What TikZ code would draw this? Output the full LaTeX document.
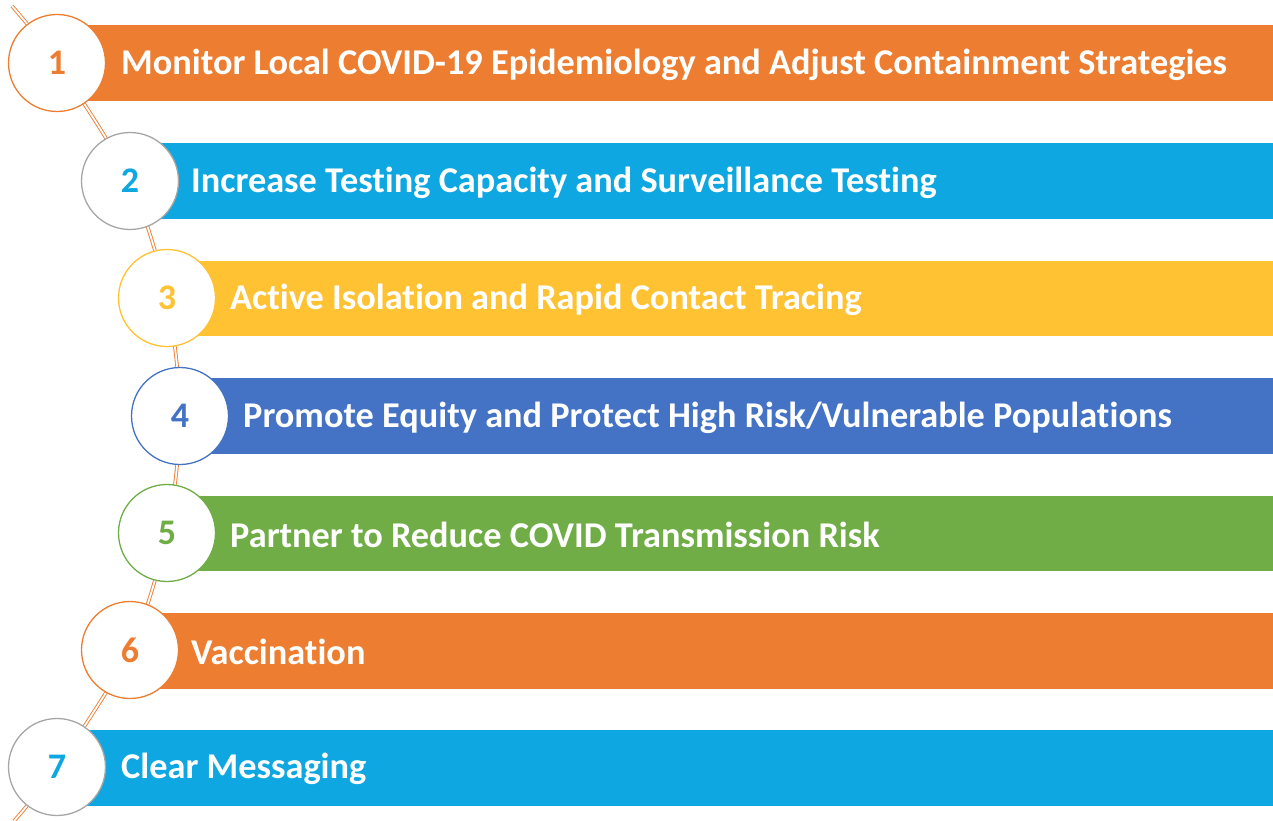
\documentclass[tikz,border=0pt]{standalone}
\usepackage{fontspec}
\setmainfont[Ligatures=NoCommon]{Carlito}
\definecolor{corange}{HTML}{ED7D31}
\definecolor{cblue}{HTML}{0EA7E1}
\definecolor{cyellow}{HTML}{FFC233}
\definecolor{cdblue}{HTML}{4472C4}
\definecolor{cgreen}{HTML}{70AD47}
\definecolor{cgray}{HTML}{A6A6A6}
\tikzset{
  bar/.style={fill=#1, draw=none},
  numcircle/.style={circle, draw=#1, line width=1.3pt, fill=white, minimum size=97pt, inner sep=0pt, font=\fontsize{36}{40}\selectfont\bfseries},
  label/.style={anchor=west, text=white, font=\fontsize{36.3}{40}\selectfont\bfseries, inner sep=0pt, yshift=-2pt},
  chain/.style={draw=corange, line width=0.9pt, double=white, double distance=1.8pt},
}
\begin{document}
\begin{tikzpicture}[x=1pt,y=-1pt]
\useasboundingbox (0,0) rectangle (1273,821);
% bars
\fill[bar=corange] (57,25) rectangle (1273,101);
\fill[bar=cblue] (130,143) rectangle (1273,219);
\fill[bar=cyellow] (167,261) rectangle (1273,336);
\fill[bar=cdblue] (180,378) rectangle (1273,454);
\fill[bar=cgreen] (167,496) rectangle (1273,571);
\fill[bar=corange] (130,613) rectangle (1273,689);
\fill[bar=cblue] (57,730) rectangle (1273,806);
% chain
\draw[chain] plot[smooth, tension=0.5] coordinates {(12,6) (57,63) (130,181) (167,298) (180,416) (167,533) (130,650) (57,767) (14,821)};
% circles
\node[numcircle=corange, text=corange] (c1) at (57,63) {1};
\node[numcircle=cgray, text=cblue] (c2) at (130,181) {2};
\node[numcircle=cyellow, text=cyellow] (c3) at (167,298) {3};
\node[numcircle=cdblue, text=cdblue] (c4) at (180,416) {4};
\node[numcircle=cgreen, text=cgreen] (c5) at (167,533) {5};
\node[numcircle=corange, text=corange] (c6) at (130,650) {6};
\node[numcircle=cgray, text=cblue] (c7) at (57,767) {7};
% labels
\node[label] (t1) at (121,63) {Monitor Local COVID-19 Epidemiology and Adjust Containment Strategies};
\node[label] (t2) at (191,181) {Increase Testing Capacity and Surveillance Testing};
\node[label] (t3) at (230,298) {Active Isolation and Rapid Contact Tracing};
\node[label] (t4) at (243,416) {Promote Equity and Protect High Risk/Vulnerable Populations};
\node[label] (t5) at (230,533) {Partner to Reduce COVID Transmission Risk};
\node[label] (t6) at (191,650) {Vaccination};
\node[label] (t7) at (121,767) {Clear Messaging};
\end{tikzpicture}
\end{document}
